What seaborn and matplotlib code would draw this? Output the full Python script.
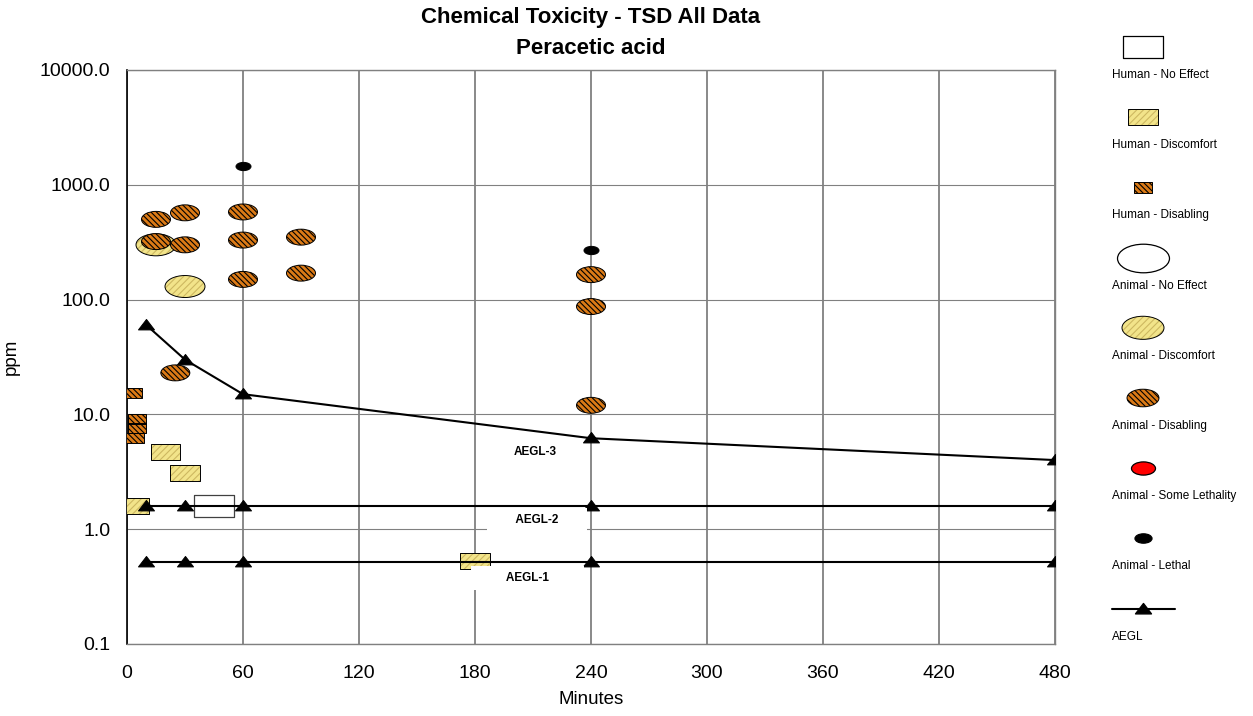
import matplotlib
matplotlib.use("Agg")
import pandas as pd
import matplotlib.pyplot as plt
from matplotlib.path import Path
from matplotlib.ticker import FixedLocator, FormatStrFormatter, NullFormatter, LogLocator
import seaborn as sns

# -----------------------------------
# Data (minutes, ppm)
# -----------------------------------
human_no_effect_min = [45]
human_no_effect_ppm = [1.6]

human_discomfort_min = [4, 20, 30, 180]
human_discomfort_ppm = [1.6, 4.7, 3.1, 0.53]

human_disabling_min = [3, 5, 5, 4]
human_disabling_ppm = [15.5, 9.2, 7.6, 6.2]

animal_discomfort_min = [15, 30]
animal_discomfort_ppm = [300, 130]

animal_disabling_min = [15, 15, 30, 30, 25, 60, 60, 60, 90, 90, 240, 240, 240]
animal_disabling_ppm = [500, 320, 570, 300, 23, 580, 330, 150, 350, 170, 165, 87, 12]

animal_lethal_min = [60, 240]
animal_lethal_ppm = [1450, 270]

aegl_min = [10, 30, 60, 240, 480]
aegl1_ppm = [0.52, 0.52, 0.52, 0.52, 0.52]
aegl2_ppm = [1.6, 1.6, 1.6, 1.6, 1.6]
aegl3_ppm = [60, 30, 15, 6.2, 4.0]

x_ticks = [0, 60, 120, 180, 240, 300, 360, 420, 480]
y_ticks = [0.1, 1, 10, 100, 1000, 10000]

# -----------------------------------
# Style
# -----------------------------------
sns.set_style("white")
plt.rcParams["font.family"] = ["Liberation Sans", "DejaVu Sans"]
plt.rcParams["text.color"] = "black"
plt.rcParams["axes.labelcolor"] = "black"
plt.rcParams["xtick.labelcolor"] = "black"
plt.rcParams["ytick.labelcolor"] = "black"
plt.rcParams["hatch.linewidth"] = 0.8

ORANGE = "#db7a16"
YELLOW = "#f2e48a"
YELLOW_HATCH = "#cdb860"
GRID = "#808080"
DENSE = "\\" * 6
LIGHT = "/" * 5

circle = Path.unit_circle()
ellipse = Path(circle.vertices * [1.0, 0.55], circle.codes)
rect = Path([(-1, -0.55), (1, -0.55), (1, 0.55), (-1, 0.55), (-1, -0.55)], closed=True)
tri = Path([(-1, -0.55), (1, -0.55), (0, 0.75), (-1, -0.55)], closed=True)


def draw(ax, x, y, marker, s, face, hatch=None, hatch_color="black", edge="black", lw=0.7, z=3):
    if hatch:
        sns.scatterplot(x=x, y=y, ax=ax, marker=marker, s=s, color=face,
                        edgecolor=hatch_color, hatch=hatch, linewidth=0,
                        zorder=z, legend=False)
        sns.scatterplot(x=x, y=y, ax=ax, marker=marker, s=s, color="none",
                        edgecolor=edge, linewidth=lw, zorder=z, legend=False)
    else:
        sns.scatterplot(x=x, y=y, ax=ax, marker=marker, s=s, color=face,
                        edgecolor=edge, linewidth=lw, zorder=z, legend=False)


fig = plt.figure(figsize=(12.53, 7.16), dpi=100)
ax = fig.add_axes([127 / 1253, 72 / 716, 928 / 1253, 574 / 716])
ax.set_yscale("log")
ax.set_xlim(0, 480)
ax.set_ylim(0.1, 10000)

# ===================================
# Points
# ===================================
draw(ax, animal_discomfort_min, animal_discomfort_ppm, ellipse, 829, YELLOW, LIGHT, YELLOW_HATCH)
draw(ax, animal_disabling_min, animal_disabling_ppm, ellipse, 436, ORANGE, DENSE, "black")
draw(ax, animal_lethal_min, animal_lethal_ppm, ellipse, 117, "black")
draw(ax, human_no_effect_min, human_no_effect_ppm, rect, 829, "white", edge="#404040", lw=0.9)
draw(ax, human_discomfort_min, human_discomfort_ppm, rect, 436, YELLOW, LIGHT, YELLOW_HATCH)
draw(ax, human_disabling_min, human_disabling_ppm, rect, 168, ORANGE, DENSE, "black")

# ===================================
# AEGL lines
# ===================================
aegl_df = pd.DataFrame({
    "minutes": aegl_min + aegl_min + aegl_min,
    "ppm": aegl1_ppm + aegl2_ppm + aegl3_ppm,
    "level": ["AEGL-1"] * 5 + ["AEGL-2"] * 5 + ["AEGL-3"] * 5,
})
sns.lineplot(data=aegl_df, x="minutes", y="ppm", units="level", estimator=None,
             color="black", linewidth=1.5, marker=tri, markersize=11.5,
             markerfacecolor="black", markeredgecolor="black",
             legend=False, zorder=4, ax=ax)

label_box = dict(boxstyle="square,pad=0.5", facecolor="white", edgecolor="none")
ax.text(211, 4.69, "AEGL-3", fontsize=8.5, fontweight="bold", ha="center", va="center",
        bbox=label_box, zorder=5)
ax.text(212, 1.2, "       AEGL-2       ", fontsize=8.5, fontweight="bold", ha="center",
        va="center", bbox=label_box, zorder=5)
ax.text(207, 0.374, "         AEGL-1         ", fontsize=8.5, fontweight="bold",
        ha="center", va="center", bbox=label_box, zorder=5)

# ===================================
# Axes
# ===================================
ax.xaxis.set_major_locator(FixedLocator(x_ticks))
ax.xaxis.set_minor_locator(FixedLocator([t + 30 for t in x_ticks[:-1]]))
ax.yaxis.set_major_locator(FixedLocator(y_ticks))
ax.yaxis.set_major_formatter(FormatStrFormatter("%.1f"))
ax.yaxis.set_minor_locator(LogLocator(base=10, subs=range(2, 10)))
ax.yaxis.set_minor_formatter(NullFormatter())

ax.tick_params(axis="x", which="major", direction="inout", length=12, width=1.1,
               color=GRID, labelsize=14, pad=9, labelcolor="black")
ax.tick_params(axis="x", which="minor", direction="inout", length=7, width=1.0, color=GRID)
ax.tick_params(axis="y", which="major", direction="out", length=10.8, width=1.0,
               color=GRID, labelsize=14, pad=1, labelcolor="black")
ax.tick_params(axis="y", which="minor", direction="out", length=6.5, width=0.8, color=GRID)

ax.grid(True, axis="y", which="major", color=GRID, linewidth=0.8)
ax.grid(True, axis="x", which="major", color=GRID, linewidth=1.3)
ax.set_axisbelow(True)

ax.spines["left"].set_color("black")
ax.spines["left"].set_linewidth(1.2)
for side in ["top", "bottom", "right"]:
    ax.spines[side].set_color(GRID)
    ax.spines[side].set_linewidth(1.0)

ax.set_xlabel("Minutes", fontsize=13.5, color="black")
ax.xaxis.set_label_coords(0.5, -0.082)
ax.set_ylabel("")
ax.text(-0.125, 0.5, "ppm", transform=ax.transAxes, rotation=90, fontsize=13.5,
        ha="center", va="center")

fig.text(591 / 1253, 1 - 17 / 716, "Chemical Toxicity - TSD All Data", fontsize=16,
         fontweight="bold", ha="center", va="center")
fig.text(591 / 1253, 1 - 48 / 716, "Peracetic acid", fontsize=16,
         fontweight="bold", ha="center", va="center")

# ===================================
# Legend panel
# ===================================
lax = fig.add_axes([1085 / 1253, 0, 168 / 1253, 1])
lax.set_xlim(1085, 1253)
lax.set_ylim(716, 0)
lax.axis("off")

legend_items = [
    ("Human - No Effect", rect, 829, "white", None, None),
    ("Human - Discomfort", rect, 436, YELLOW, LIGHT, YELLOW_HATCH),
    ("Human - Disabling", rect, 187, ORANGE, DENSE, "black"),
    ("Animal - No Effect", ellipse, 1400, "white", None, None),
    ("Animal - Discomfort", ellipse, 914, YELLOW, LIGHT, YELLOW_HATCH),
    ("Animal - Disabling", ellipse, 530, ORANGE, DENSE, "black"),
    ("Animal - Some Lethality", ellipse, 299, "red", None, None),
    ("Animal - Lethal", ellipse, 150, "black", None, None),
]
for i, (label, marker, s, face, hatch, hcol) in enumerate(legend_items):
    yc = 47 + 70.2 * i
    if hatch:
        draw(lax, [1143], [yc], marker, s, face, hatch, hcol)
    else:
        draw(lax, [1143], [yc], marker, s, face, lw=0.9)
    lax.text(1112, yc + 28, label, fontsize=8.5, ha="left", va="center")

yc = 47 + 70.2 * 8
lax.plot([1112, 1143, 1175], [yc, yc, yc], color="black", linewidth=1.5, marker=tri,
         markersize=11.5, markevery=[1], markerfacecolor="black", markeredgecolor="black")
lax.text(1112, yc + 28, "AEGL", fontsize=8.5, ha="left", va="center")

plt.savefig("out.png", dpi=100)
plt.close()
